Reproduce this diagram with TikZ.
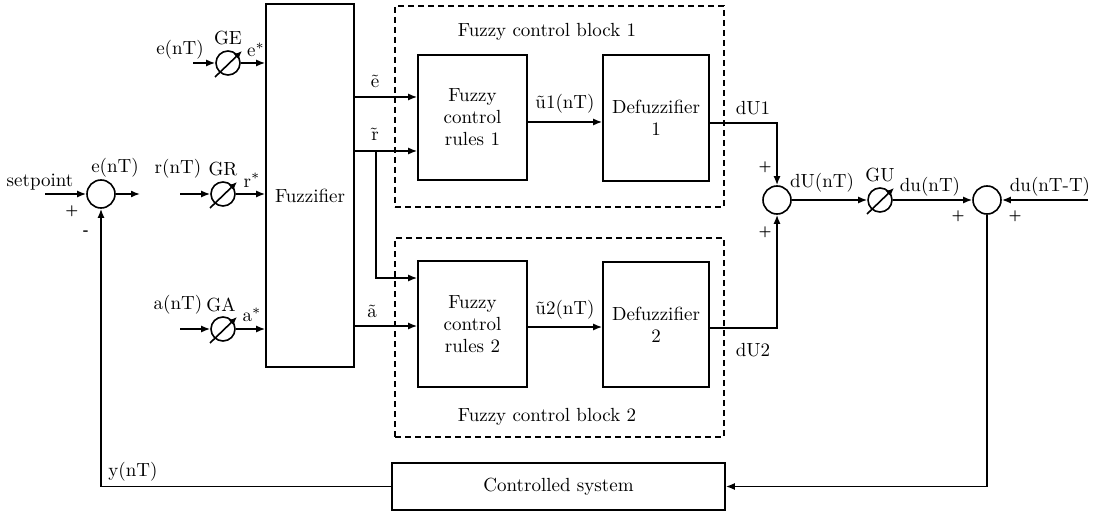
\documentclass[tikz,border=0pt]{standalone}
\usetikzlibrary{arrows.meta}
\begin{document}
\begin{tikzpicture}[x=0.5pt,y=-0.5pt,
  every node/.style={font=\fontsize{9.5}{11}\selectfont},
  line/.style={line width=0.8pt},
  arr/.style={line width=0.8pt,-{Latex[length=4.5pt,width=3.5pt]}},
  blk/.style={draw,line width=0.8pt,inner sep=0pt,align=center},
  dashbox/.style={draw,line width=0.8pt,dash pattern=on 3pt off 2pt,inner sep=0pt},
  sumc/.style={draw,circle,line width=0.8pt,minimum size=14pt,inner sep=0pt},
  gainc/.style={draw,circle,line width=0.8pt,minimum size=12pt,inner sep=0pt},
  sign/.style={font=\fontsize{6.5}{7}\selectfont\bfseries,inner sep=0pt}]
\useasboundingbox (0,0) rectangle (1101,513);

% dashed blocks
\node[dashbox,minimum width=164.5pt,minimum height=100.5pt] (blk1) at (559.5,106.5) {};
\node[dashbox,minimum width=164.5pt,minimum height=99.5pt] (blk2) at (559.5,337.5) {};
\node (blk1t) at (547,32) {Fuzzy control block 1};
\node (blk2t) at (547,417) {Fuzzy control block 2};

% main boxes
\node[blk,minimum width=44pt,minimum height=181.5pt] (fuzz) at (310,185.5) {};
\node (fuzzl) at (310,196) {Fuzzifier};
\node[blk,minimum width=54.5pt,minimum height=62.5pt] (rules1) at (472.5,117.5) {Fuzzy\\control\\rules 1};
\node[blk,minimum width=53pt,minimum height=63pt] (def1) at (656,118) {Defuzzifier\\1};
\node[blk,minimum width=54.5pt,minimum height=63pt] (rules2) at (472.5,324) {Fuzzy\\control\\rules 2};
\node[blk,minimum width=53pt,minimum height=62.5pt] (def2) at (656,324.5) {Defuzzifier\\2};
\node[blk,minimum width=166.5pt,minimum height=23.5pt] (ctrl) at (558.5,486.5) {Controlled system};

% summing junctions
\node[sumc] (sum1) at (101,194) {};
\node[sumc] (sum2) at (777,200) {};
\node[sumc] (sum3) at (987,200) {};

% gains
\node[gainc] (ge) at (228,63) {};
\node[gainc] (gr) at (223,194) {};
\node[gainc] (ga) at (223,329) {};
\node[gainc] (gu) at (880,200) {};
\foreach \g in {ge,gr,ga,gu}{
  \draw[line width=0.8pt,-{Latex[length=4pt,width=3.5pt]}] ([shift={(-6.5pt,-7pt)}]\g.center) -- ([shift={(7pt,6pt)}]\g.center);
}

% coordinates
\coordinate (sp) at (45,194);
\coordinate (eout) at (140,194);
\coordinate (ein) at (193,63);
\coordinate (rin) at (180,194);
\coordinate (ain) at (180,329);
\coordinate (ye) at (0,97);
\coordinate (yr) at (0,151);
\coordinate (br) at (376,151);
\coordinate (yr2) at (0,278);
\coordinate (ya) at (0,326);
\coordinate (yu1) at (0,122);
\coordinate (yu2) at (0,327);
\coordinate (yd1) at (0,123);
\coordinate (yd2) at (0,328);
\coordinate (dut) at (1088,200);

% connections
\draw[arr] (sp) -- (sum1.west);
\draw[arr] (sum1.east) -- (eout);
\draw[arr] (ein) -- (ge.west);
\draw[arr] (rin) -- (gr.west);
\draw[arr] (ain) -- (ga.west);
\draw[arr] (ge.east) -- (ge -| fuzz.west);
\draw[arr] (gr.east) -- (gr -| fuzz.west);
\draw[arr] (ga.east) -- (ga -| fuzz.west);
\draw[arr] (fuzz.east |- ye) -- (rules1.west |- ye);
\draw[arr] (fuzz.east |- yr) -- (rules1.west |- yr);
\draw[arr] (br) |- (rules2.west |- yr2);
\draw[arr] (fuzz.east |- ya) -- (rules2.west |- ya);
\draw[arr] (rules1.east |- yu1) -- (def1.west |- yu1);
\draw[arr] (rules2.east |- yu2) -- (def2.west |- yu2);
\draw[arr] (def1.east |- yd1) -| (sum2.north);
\draw[arr] (def2.east |- yd2) -| (sum2.south);
\draw[arr] (sum2.east) -- (gu.west);
\draw[arr] (gu.east) -- (sum3.west);
\draw[arr] (dut) -- (sum3.east);
\draw[arr] (sum3.south) |- (ctrl.east);
\draw[arr] (ctrl.west) -| (sum1.south);

% labels
\node (lsp) at (40,182) {setpoint};
\node[sign] (p1) at (72,211) {+};
\node[sign] (m1) at (86,233) {-};
\node (le1) at (115,168) {e(nT)};
\node (le2) at (180,50) {e(nT)};
\node (lge) at (228,38) {GE};
\node (les) at (256,50) {e$^*$};
\node (lr) at (178,169) {r(nT)};
\node (lgr) at (223,169) {GR};
\node (lrs) at (252,180) {r$^*$};
\node (la) at (178,305) {a(nT)};
\node (lga) at (221,305) {GA};
\node (las) at (252,315) {a$^*$};
\node (lte) at (375,81) {\~{e}};
\node (ltr) at (375,134) {\~{r}};
\node (lta) at (372,311) {\~{a}};
\node (lu1) at (565,104) {\~{u}1(nT)};
\node (lu2) at (565,310) {\~{u}2(nT)};
\node (ld1) at (753,108) {dU1};
\node (ld2) at (753,350) {dU2};
\node[sign] (p2) at (765,167) {+};
\node[sign] (p3) at (765,232) {+};
\node (ldu) at (822,183) {dU(nT)};
\node (lgu) at (880,175) {GU};
\node (ldun) at (930,187) {du(nT)};
\node (ldut) at (1050,187) {du(nT-T)};
\node[sign] (p4) at (958,216) {+};
\node[sign] (p5) at (1015,216) {+};
\node (ly) at (133,472) {y(nT)};
\end{tikzpicture}
\end{document}
